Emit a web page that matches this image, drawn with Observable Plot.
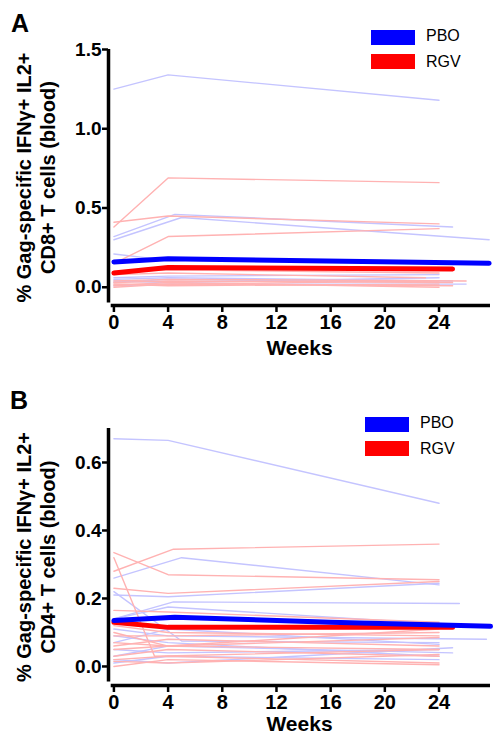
<!DOCTYPE html>
<html><head><meta charset="utf-8">
<script src="https://cdn.jsdelivr.net/npm/d3@7"></script>
<script src="https://cdn.jsdelivr.net/npm/@observablehq/plot@0.6"></script>
<style>
body{margin:0;background:#fff;font-family:"Liberation Sans",Arial,sans-serif;}
.panel{position:relative;width:493px;overflow:hidden;}
.letter{position:absolute;font-weight:bold;font-size:25px;line-height:1;}
.leg{position:absolute;font-size:16px;line-height:1;}
.sw{position:absolute;width:44px;height:15px;}
</style></head><body>
<div id="A" class="panel" style="height:370px">
  <div class="letter" style="left:11px;top:11px">A</div>
  <div class="sw" style="left:371px;top:30px;background:#0000ff"></div>
  <div class="leg" style="left:426px;top:28px">PBO</div>
  <div class="sw" style="left:371px;top:54px;background:#ff0000"></div>
  <div class="leg" style="left:426px;top:54px">RGV</div>
</div>
<div id="B" class="panel" style="height:373px">
  <div class="letter" style="left:10px;top:18px">B</div>
  <div class="sw" style="left:365px;top:47px;background:#0000ff"></div>
  <div class="leg" style="left:420px;top:45px">PBO</div>
  <div class="sw" style="left:365px;top:71px;background:#ff0000"></div>
  <div class="leg" style="left:420px;top:71px">RGV</div>
</div>
<script>
// Week tick labels
const weekTicks = [0, 4, 8, 12, 16, 20, 24];
const cd8Ticks = [0.0, 0.5, 1.0, 1.5];
const cd4Ticks = [0.0, 0.2, 0.4, 0.6];

// Panel A: CD8+ individual subjects [week, %]
const cd8PBO = [
  [[0,1.25],[4,1.34],[24,1.18]],
  [[0,0.32],[4.5,0.46],[25,0.38]],
  [[0,0.30],[5,0.44],[27.7,0.30]],
  [[0,0.21],[4,0.17],[24,0.15]],
  [[0,0.06],[4,0.07],[24,0.08]],
  [[0,0.05],[4,0.06],[25,0.04]],
  [[0,0.03],[4,0.05],[24,0.03]],
  [[0,0.01],[4,0.02],[26,0.02]],
  [[0,0.04],[4,0.03],[24,0.06]]
];
const cd8RGV = [
  [[0,0.38],[4,0.69],[24,0.66]],
  [[0,0.41],[4,0.45],[24,0.40]],
  [[0,0.15],[4,0.32],[24,0.37]],
  [[0,0.10],[4,0.11],[24,0.09]],
  [[0,0.08],[4,0.09],[23,0.06]],
  [[0,0.03],[4,0.04],[25,0.03]],
  [[0,0.02],[4,0.01],[24,0.02]],
  [[0,0.00],[4,0.02],[25,0.01]],
  [[0,0.01],[4,0.03],[24,0.00]],
  [[0,0.04],[4,0.05],[26,0.04]],
  [[0,0.02],[4,0.02],[24,0.04]]
];
const cd8PBOMean = [[0,0.16],[4,0.18],[27.7,0.152]];
const cd8RGVMean = [[0,0.09],[4,0.125],[25,0.115]];

// Panel B: CD4+ individual subjects [week, %]
const cd4PBO = [
  [[0,0.67],[4,0.665],[24,0.48]],
  [[0,0.26],[5,0.32],[24,0.24]],
  [[0,0.21],[4,0.205],[24,0.245]],
  [[0,0.22],[5,0.075],[24,0.07]],
  [[0,0.14],[4.4,0.19],[25.5,0.185]],
  [[0,0.14],[4,0.175],[24,0.125]],
  [[0,0.11],[4,0.09],[27.5,0.08]],
  [[0,0.07],[4,0.11],[24,0.065]],
  [[0,0.05],[4,0.04],[24,0.05]],
  [[0,0.03],[4,0.06],[25,0.04]],
  [[0,0.01],[4,0.03],[24,0.02]],
  [[0,0.09],[4,0.07],[24,0.03]],
  [[0,0.02],[4,0.01],[25,0.055]]
];
const cd4RGV = [
  [[0,0.28],[4.4,0.345],[24,0.36]],
  [[0,0.335],[4,0.27],[24,0.255]],
  [[0,0.23],[4,0.215],[24,0.25]],
  [[0,0.32],[3,0.03],[24,0.05]],
  [[0,0.165],[4,0.16],[24,0.13]],
  [[0,0.12],[4,0.10],[24,0.09]],
  [[0,0.10],[4,0.06],[24,0.085]],
  [[0,0.07],[4,0.06],[24,0.11]],
  [[0,0.05],[4,0.06],[24,0.05]],
  [[0,0.03],[4,0.05],[24,0.03]],
  [[0,0.02],[4,0.03],[24,0.01]],
  [[0,0.00],[4,0.02],[24,0.005]],
  [[0,0.06],[4,0.08],[24,0.06]],
  [[0,0.09],[4,0.09],[24,0.10]],
  [[0,0.015],[4,0.01],[24,0.035]]
];
const cd4PBOMean = [[0,0.135],[4.5,0.145],[16,0.13],[27.8,0.118]];
const cd4RGVMean = [[0,0.13],[4,0.115],[25,0.115]];

const FONT = '"Liberation Sans", Arial, sans-serif';

function rows(lines, g) {
  return lines.flatMap((pts, i) => pts.map(([w, v]) => ({id: g + i, week: w, value: v})));
}

function panel(o) {
  const xMin = -0.4, xMax = 27.8;
  return Plot.plot({
    width: 493, height: o.height,
    marginLeft: 108, marginRight: 3, marginTop: o.marginTop, marginBottom: o.marginBottom,
    x: {domain: [xMin, xMax], axis: null},
    y: {domain: o.yDomain, axis: null},
    style: {fontFamily: FONT, fontWeight: "bold", fontSize: "19px", background: "white", color: "black"},
    marks: [
      Plot.line(rows(o.pbo, "p"), {x: "week", y: "value", z: "id", stroke: "#c4c4ff", strokeWidth: 1.4}),
      Plot.line(rows(o.rgv, "r"), {x: "week", y: "value", z: "id", stroke: "#ffb2b2", strokeWidth: 1.4}),
      Plot.line(o.rgvMean, {x: d => d[0], y: d => d[1], stroke: "#ff0000", strokeWidth: 5}),
      Plot.line(o.pboMean, {x: d => d[0], y: d => d[1], stroke: "#0000ff", strokeWidth: 5}),
      Plot.ruleX([xMin], {y1: o.yAxisBottom, y2: o.yDomain[1], stroke: "black", strokeWidth: 3.5}),
      Plot.ruleY([o.yDomain[0]], {x1: -0.2, x2: xMax, stroke: "black", strokeWidth: 3.5}),
      Plot.axisX(weekTicks, {tickSize: 7, tickPadding: 2, strokeWidth: 2.5, fontSize: 20, label: null}),
      Plot.axisY(o.yTicks, {tickSize: 6, tickPadding: 1, strokeWidth: 2.5, fontSize: 19, label: null,
        tickFormat: d => d.toFixed(1)}),
      Plot.text(["Weeks"], {frameAnchor: "bottom", dy: o.weeksDy, fontSize: 21, fontWeight: "bold"}),
      Plot.text([o.label], {frameAnchor: "left", dx: -73, rotate: -90, fontSize: 20, fontWeight: "bold",
        lineHeight: 1.2, textAnchor: "middle"})
    ]
  });
}

document.getElementById("A").prepend(panel({
  pbo: cd8PBO, rgv: cd8RGV, pboMean: cd8PBOMean, rgvMean: cd8RGVMean,
  yDomain: [-0.115, 1.5], yAxisBottom: -0.1, yTicks: cd8Ticks,
  height: 370, marginTop: 49, marginBottom: 65, weeksDy: 49,
  label: "% Gag-specific IFNγ+ IL2+\nCD8+ T cells (blood)"
}));
document.getElementById("B").prepend(panel({
  pbo: cd4PBO, rgv: cd4RGV, pboMean: cd4PBOMean, rgvMean: cd4RGVMean,
  yDomain: [-0.056, 0.7], yAxisBottom: -0.046, yTicks: cd4Ticks,
  height: 373, marginTop: 58, marginBottom: 58, weeksDy: 45,
  label: "% Gag-specific IFNγ+ IL2+\nCD4+ T cells (blood)"
}));
</script>
</body></html>
